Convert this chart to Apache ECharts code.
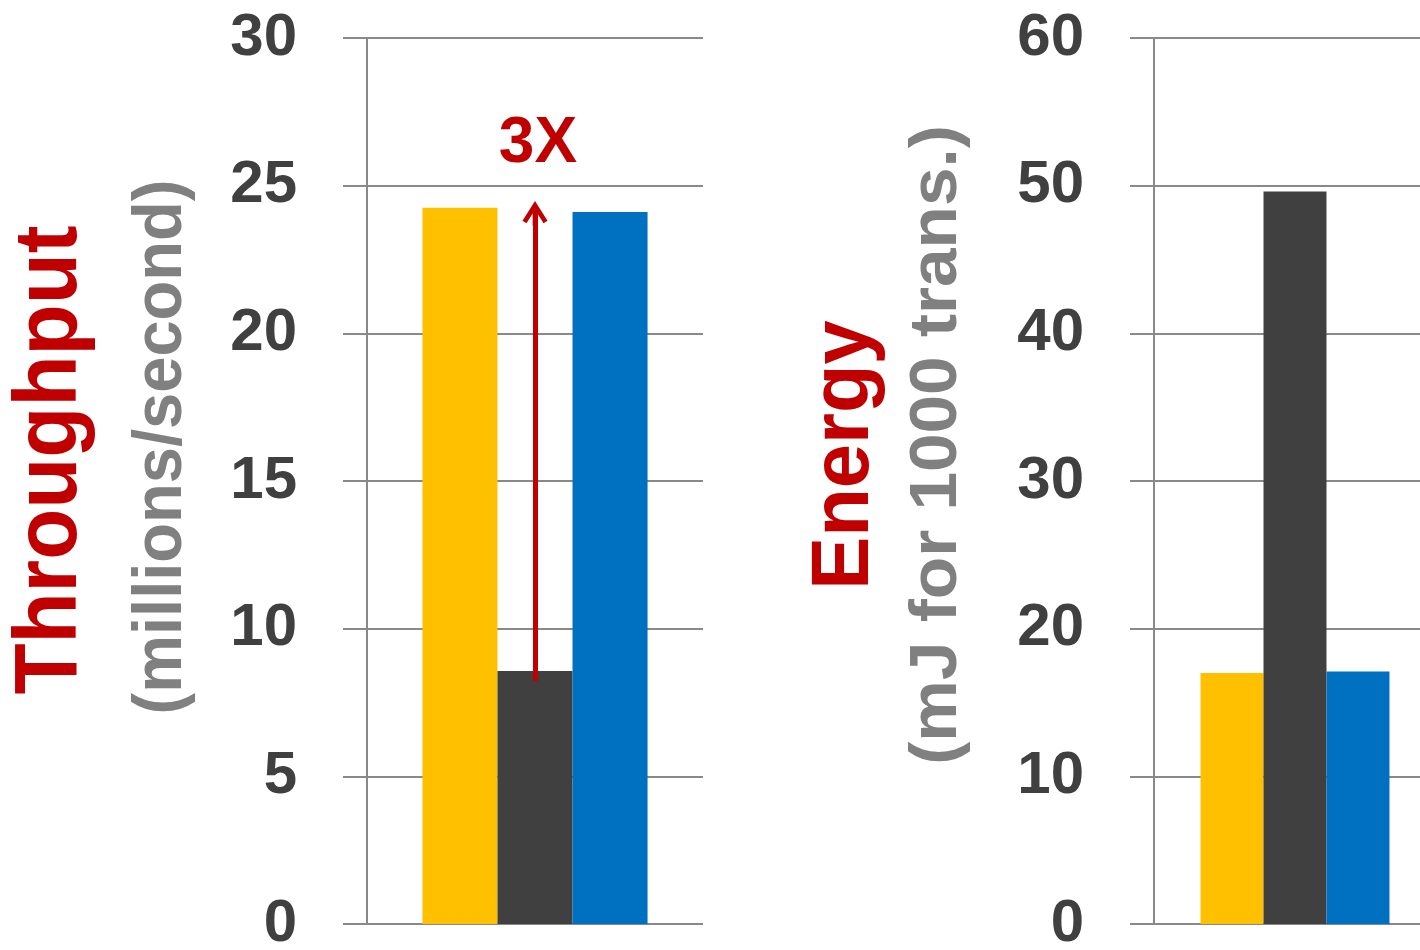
<!DOCTYPE html>
<html><head><meta charset="utf-8">
<script src="https://cdn.jsdelivr.net/npm/echarts@6/dist/echarts.min.js"></script>
<style>html,body{margin:0;padding:0;background:#fff}#c{width:1420px;height:950px}</style>
</head><body><div id="c"></div>
<script>
// ---- data ----
const categories = [''];
const seriesNames = ['Config 1', 'Config 2', 'Config 3'];
const throughput = [24.25, 8.57, 24.11];      // millions/second
const energy = [17.0, 49.6, 17.1];            // mJ for 1000 trans.
const throughputAxis = [0, 30, 5];            // min, max, interval
const energyAxis = [0, 60, 10];
const arrowRange = [8.23, 24.48];             // 3X arrow from/to (throughput units)
const arrowText = '3X';
const arrowTextValue = 26.4;
const titles = ['Throughput', '(millions/second)', 'Energy', '(mJ for 1000 trans.)'];

// ---- styles ----
const colors = ['#FFC000', '#404040', '#0070C0'];
const RED = '#C00000', GRAY_TXT = '#808080', DARK = '#404040', LINE = '#898989';
const FONT = '"Liberation Sans Narrow", "Liberation Sans", Arial, sans-serif';

const chart = echarts.init(document.getElementById('c'), null, {renderer: 'canvas'});

function yAxisCfg(gridIndex, r) {
  return {
    type: 'value', gridIndex, min: r[0], max: r[1], interval: r[2],
    axisLine: {show: true, lineStyle: {color: LINE, width: 2}},
    axisTick: {show: true, length: 24, lineStyle: {color: LINE, width: 2}},
    splitLine: {show: true, lineStyle: {color: LINE, width: 2}},
    axisLabel: {margin: 70, color: DARK, fontFamily: FONT, fontWeight: 'bold', fontSize: 60}
  };
}
function xAxisCfg(gridIndex) {
  return {
    type: 'category', gridIndex, data: categories,
    axisLine: {show: false}, axisTick: {show: false}, axisLabel: {show: false}
  };
}

const series = [];
seriesNames.forEach((n, i) => {
  const s = {
    name: n, type: 'bar', xAxisIndex: 0, yAxisIndex: 0, data: [throughput[i]],
    barGap: '0%', barCategoryGap: '33%', itemStyle: {color: colors[i]}, animation: false
  };
  if (i === 1) {
    s.markLine = {
      silent: true, symbol: 'none', animation: false,
      label: {show: false},
      lineStyle: {color: RED, width: 5, type: 'solid', opacity: 1},
      data: [[{coord: [0, arrowRange[0]]}, {coord: [0, arrowRange[1] - 0.3]}]]
    };
    s.markPoint = {
      silent: true, animation: false,
      data: [
        {coord: [0, arrowRange[1]],
         symbol: 'path://M12 0 L24 19 L20.2 21.4 L14.25 12 L14.25 24 L9.75 24 L9.75 12 L3.8 21.4 L0 19 Z',
         symbolSize: [25, 25], symbolOffset: [0, '50%'],
         itemStyle: {color: RED}, label: {show: false}},
        {coord: [0, arrowTextValue], symbol: 'circle', symbolSize: 0,
         label: {show: true, position: 'inside', formatter: arrowText, color: RED,
                 fontFamily: FONT, fontWeight: 'bold', fontSize: 64, offset: [3, 0]}}
      ]
    };
  }
  series.push(s);
  series.push({
    name: n, type: 'bar', xAxisIndex: 1, yAxisIndex: 1, data: [energy[i]],
    barGap: '0%', barCategoryGap: '33%', itemStyle: {color: colors[i]}, animation: false
  });
});

function vText(text, x, y, size, color, sx, sy) {
  return {
    type: 'text', x, y, rotation: Math.PI / 2, scaleX: sx, scaleY: sy, silent: true,
    style: {text, fill: color, font: 'bold ' + size + 'px ' + FONT, align: 'center', verticalAlign: 'middle'}
  };
}

chart.setOption({
  backgroundColor: '#fff',
  animation: false,
  grid: [
    {left: 367, top: 38, width: 336, bottom: 26, outerBoundsMode: 'none', containLabel: false},
    {left: 1154, top: 38, width: 282, bottom: 26, outerBoundsMode: 'none', containLabel: false}
  ],
  xAxis: [xAxisCfg(0), xAxisCfg(1)],
  yAxis: [yAxisCfg(0, throughputAxis), yAxisCfg(1, energyAxis)],
  series,
  graphic: [
    vText(titles[0], 51, 460, 89, RED, 0.94, 1),
    vText(titles[1], 162, 447, 69, GRAY_TXT, 0.943, 1),
    vText(titles[2], 845, 455, 82, RED, 0.97, 1),
    vText(titles[3], 938, 445, 67, GRAY_TXT, 1.035, 1)
  ]
});
</script></body></html>
